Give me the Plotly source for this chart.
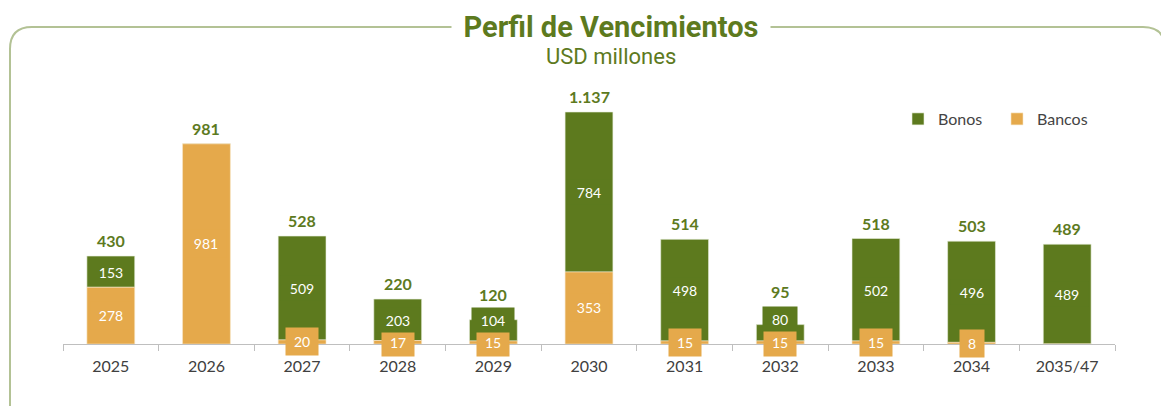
import plotly.graph_objects as go

years = ["2025", "2026", "2027", "2028", "2029", "2030", "2031", "2032", "2033", "2034", "2035/47"]
bonos = [153, 0, 509, 203, 104, 784, 498, 80, 502, 496, 489]
bancos = [278, 981, 20, 17, 15, 353, 15, 15, 15, 8, 0]
totals = ["430", "981", "528", "220", "120", "1.137", "514", "95", "518", "503", "489"]

GREEN = "#5d7a1e"
ORANGE = "#e5a94b"
FRAME = "#b3c295"

# the page body adds an 8px margin; work in figure pixels = screen pixels - 8
OFF = 8
W, H = 1169 - OFF, 406 - OFF
L = 63 - OFF
R = W - (1115 - OFF)
T = 80 - OFF
B = H - (344 - OFF)
YMAX = 1294

fig = go.Figure()
fig.add_trace(go.Bar(name="Bonos", x=years, y=bonos, base=bancos, marker_color=GREEN,
                     marker_line=dict(width=0.6, color="#e8eedb"), hoverinfo="skip"))
fig.add_trace(go.Bar(name="Bancos", x=years, y=bancos, marker_color=ORANGE,
                     marker_line=dict(width=0.6, color="#f6e6c8"), hoverinfo="skip"))

ann = []
lab_font = dict(family="Lato", size=14, color="white")
for i, yr in enumerate(years):
    b, k = bonos[i], bancos[i]
    if k:
        ann.append(dict(x=i, y=k / 2, text=str(k), showarrow=False, font=lab_font,
                        bgcolor=ORANGE, width=len(str(k)) * 8 + 14, height=25))
    tshift = 4
    if b:
        shift = 0
        if b < 120 and k:
            shift = 14 if b < 100 else 10
            tshift = 4 + (18 if b < 100 else 10)
        ann.append(dict(x=i, y=k + b / 2, text=str(b), showarrow=False, font=lab_font,
                        bgcolor=GREEN, yshift=shift, width=len(str(b)) * 8 + 16, height=22))
    ann.append(dict(x=i, y=b + k, text=totals[i], showarrow=False, yanchor="bottom", yshift=tshift,
                    font=dict(family="Lato", size=16, color=GREEN, weight="bold")))

def px(xs):
    return (xs - OFF - L) / (W - L - R)

def py(ys):
    return (H - B - (ys - OFF)) / (H - T - B)

# rounded frame (screen coords)
x0, y0, x1, y1, r = 10, 27, 1165, 440, 22
path = (f"M {px(x0)},{py(y1)} L {px(x0)},{py(y0 + r)} Q {px(x0)},{py(y0)} {px(x0 + r)},{py(y0)} "
        f"L {px(x1 - r)},{py(y0)} Q {px(x1)},{py(y0)} {px(x1)},{py(y0 + r)} L {px(x1)},{py(y1)}")
shapes = [dict(type="path", xref="paper", yref="paper", path=path,
               line=dict(color=FRAME, width=2), layer="below")]

ann.append(dict(xref="paper", yref="paper", x=px(611), y=py(27), xanchor="center", yanchor="middle",
                text="<b>Perfil de Vencimientos</b>",
                showarrow=False, bgcolor="white", borderpad=0,
                font=dict(family="Roboto", size=29, color=GREEN),
                width=318, height=36))
ann.append(dict(xref="paper", yref="paper", x=px(611), y=py(57), xanchor="center", yanchor="middle",
                text="USD millones",
                showarrow=False, font=dict(family="Roboto", size=22, color=GREEN)))

fig.update_layout(
    width=W, height=H,
    margin=dict(l=L, r=R, t=T, b=B),
    paper_bgcolor="white", plot_bgcolor="white",
    barmode="overlay", bargap=0.5,
    showlegend=True,
    legend=dict(orientation="h", x=px(898), y=py(119), xanchor="left", yanchor="middle",
                font=dict(family="Lato", size=16, color="#444"), traceorder="normal",
                itemwidth=30, entrywidth=54, entrywidthmode="pixels",
                bgcolor="rgba(0,0,0,0)"),
    xaxis=dict(type="category", range=[-0.5, len(years) - 0.5], showline=True,
               linecolor="#bfbfbf", linewidth=1,
               ticks="outside", tickson="boundaries", ticklen=6, tickcolor="#bfbfbf",
               ticklabelstandoff=8,
               tickfont=dict(family="Lato", size=16, color="#404040"), showgrid=False),
    yaxis=dict(range=[0, YMAX], visible=False, showgrid=False, zeroline=False),
    annotations=ann, shapes=shapes,
)
fig.write_html("out.html")
